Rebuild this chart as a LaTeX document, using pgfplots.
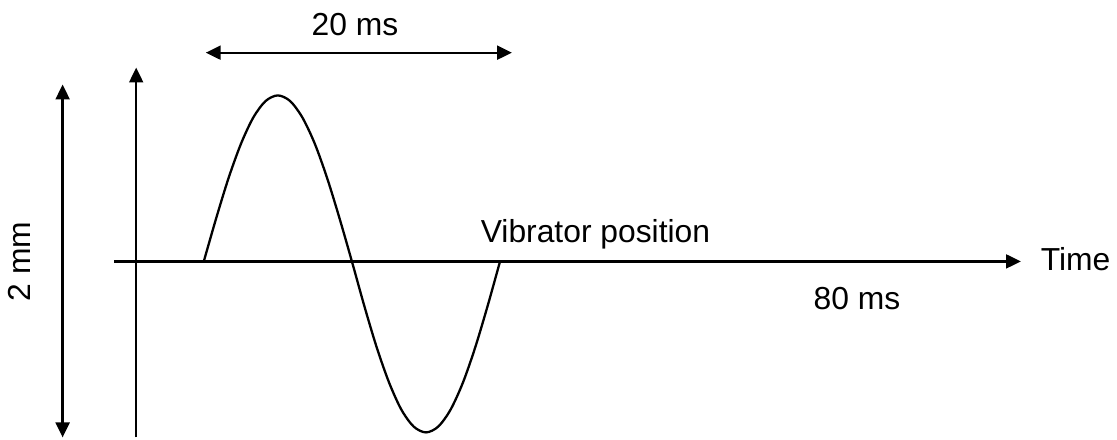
\documentclass[border=0pt]{standalone}
\usepackage{pgfplots}
\pgfplotsset{compat=1.18}
\usepackage{fontspec}
\setmainfont{Liberation Sans}
\usetikzlibrary{arrows.meta}
\begin{document}
\begin{tikzpicture}
\begin{axis}[
  hide axis, scale only axis, clip=false,
  width=558.5pt, height=221pt,
  xmin=0, xmax=1117, ymin=-442, ymax=0,
]
\path (axis cs:0,0) rectangle (axis cs:1117,-442);
% wave
\addplot[black, line width=1.15pt, smooth] coordinates {
(205,-263) (217.4,-219.8) (229.8,-179.5) (242.3,-144.9) (254.7,-118.4) (267.1,-101.7)
(279.5,-96) (291.9,-101.7) (304.3,-118.4) (316.8,-144.9) (329.2,-179.5) (341.6,-219.8)
(354,-263) (366.4,-307.5) (378.8,-349) (391.3,-384.6) (403.7,-412) (416.1,-429.1)
(428.5,-435) (440.9,-429.1) (453.3,-412) (465.8,-384.6) (478.2,-349) (490.6,-307.5)
(503,-263)
};
% axes
\draw[line width=1.15pt, -{Triangle[length=7.5pt,width=7pt]}] (axis cs:115,-263) -- (axis cs:1027,-263);
\draw[line width=1.15pt, -{Triangle[length=7.5pt,width=7pt]}] (axis cs:137,-440) -- (axis cs:137,-68);
\draw[line width=1.15pt, {Triangle[length=7.5pt,width=7pt]}-{Triangle[length=7.5pt,width=7pt]}] (axis cs:63,-440) -- (axis cs:63,-85);
\draw[line width=1.15pt, {Triangle[length=7.5pt,width=7pt]}-{Triangle[length=7.5pt,width=7pt]}] (axis cs:207,-53) -- (axis cs:515,-53);
% labels
\node[font=\fontsize{16}{19}\selectfont] at (axis cs:357,-25) {20 ms};
\node[font=\fontsize{16}{19}\selectfont, rotate=90] at (axis cs:20,-263) {2 mm};
\node[font=\fontsize{16}{19}\selectfont] at (axis cs:599,-236) {Vibrator position};
\node[font=\fontsize{16}{19}\selectfont, anchor=west] at (axis cs:1040,-261) {Time};
\node[font=\fontsize{16}{19}\selectfont] at (axis cs:862,-300) {80 ms};
\end{axis}
\end{tikzpicture}
\end{document}
